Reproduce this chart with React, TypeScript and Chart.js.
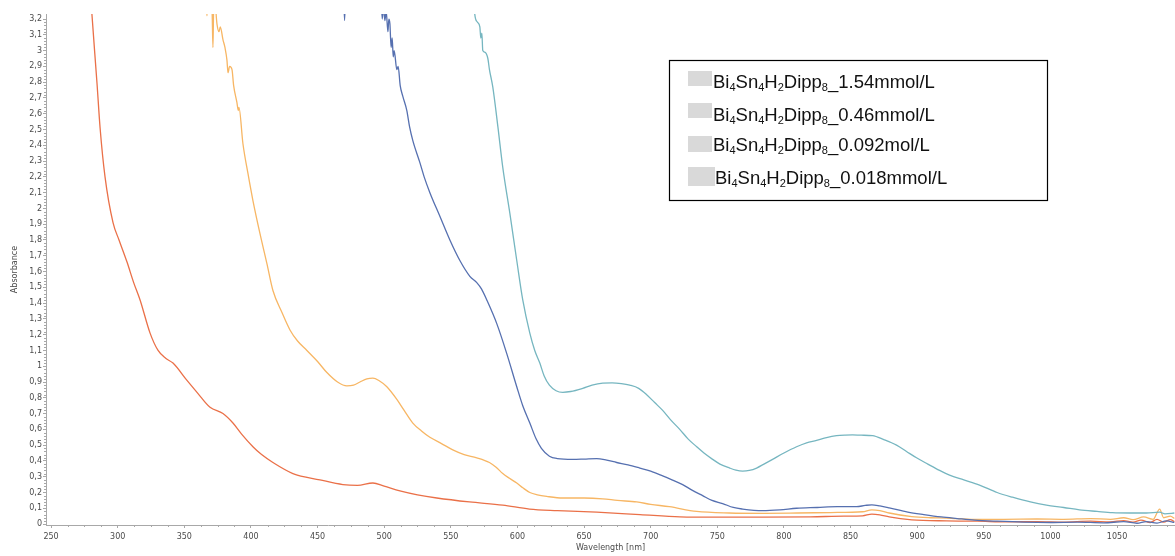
import React, { useEffect, useRef } from 'react';
import { Chart, registerables } from 'chart.js';

Chart.register(...registerables);

// UV-Vis absorbance spectra of Bi4Sn4H2Dipp8 at four concentrations

// 1.54 mmol/L
const wl154 = [566, 568, 570, 571.8, 572.5, 573.3, 574, 575.5, 577.8, 579, 581.5, 585.3, 589, 594.3, 599.5, 604, 609.3, 613, 616.8, 620, 624, 629, 634, 640, 649, 656, 664, 671, 678, 684.3, 691, 697, 703, 709, 715, 721.8, 728, 734.5, 740, 746.5, 752, 759.3, 764, 769, 774, 779.5, 785, 791.5, 800, 809.5, 817, 824.5, 832, 839.5, 846, 851.5, 858, 866.5, 875, 884.5, 892, 899.5, 908, 916.8, 924.3, 935, 946.8, 960, 971.5, 985, 997, 1010, 1021.8, 1035, 1046.5, 1060, 1072, 1082, 1086, 1093];
const abs154 = [3.5, 3.23, 3.18, 3.15, 3.08, 3.11, 3.0, 2.99, 2.95, 2.88, 2.77, 2.52, 2.26, 1.97, 1.67, 1.42, 1.21, 1.1, 1.02, 0.94, 0.88, 0.845, 0.835, 0.84, 0.86, 0.88, 0.893, 0.895, 0.89, 0.88, 0.86, 0.82, 0.77, 0.72, 0.66, 0.6, 0.54, 0.49, 0.45, 0.41, 0.38, 0.355, 0.342, 0.336, 0.34, 0.355, 0.38, 0.41, 0.45, 0.49, 0.515, 0.53, 0.548, 0.56, 0.564, 0.565, 0.563, 0.56, 0.535, 0.5, 0.46, 0.42, 0.38, 0.34, 0.31, 0.28, 0.247, 0.2, 0.17, 0.14, 0.12, 0.105, 0.09, 0.08, 0.072, 0.07, 0.07, 0.075, 0.065, 0.07];

// 0.46 mmol/L
const wl046 = [469, 470.3, 471.5, 480, 490, 497, 498.5, 499.5, 500.5, 501.5, 502.8, 503.5, 504.3, 505.2, 506, 506.8, 507.5, 509.5, 510.5, 512, 514, 517, 519, 521.5, 526.8, 530, 534.3, 541.8, 549.3, 556.8, 564.3, 569.5, 573, 577, 584.5, 592, 599.5, 604, 609.3, 614, 618, 624, 630, 641.5, 650, 659.5, 667, 674.5, 683, 691.8, 700, 709, 716, 724, 731, 739, 746, 754, 762, 769, 784, 797, 809.5, 825, 840, 854.5, 861, 866, 872, 879, 893, 905, 918, 930, 943, 960, 980, 1000, 1020, 1040, 1055, 1065, 1072, 1080, 1087, 1093];
const abs046 = [3.5, 3.19, 3.5, 3.6, 3.6, 3.5, 3.2, 3.28, 3.19, 3.25, 3.12, 3.2, 3.17, 3.02, 3.08, 2.96, 3.0, 2.88, 2.9, 2.78, 2.71, 2.62, 2.52, 2.43, 2.29, 2.2, 2.1, 1.95, 1.8, 1.67, 1.57, 1.53, 1.49, 1.42, 1.27, 1.08, 0.87, 0.75, 0.64, 0.54, 0.48, 0.43, 0.415, 0.41, 0.412, 0.415, 0.405, 0.39, 0.375, 0.355, 0.335, 0.305, 0.28, 0.25, 0.215, 0.18, 0.15, 0.13, 0.105, 0.095, 0.085, 0.09, 0.1, 0.105, 0.11, 0.11, 0.118, 0.122, 0.115, 0.103, 0.076, 0.06, 0.045, 0.035, 0.025, 0.018, 0.012, 0.01, 0.012, 0.008, 0.015, 0.005, 0.016, 0.006, 0.02, 0.01];

// 0.092 mmol/L
const wl0092 = [366.5, 367, 367.5, 370, 371, 371.5, 372, 373, 374.5, 376, 377, 379, 380.5, 382, 382.8, 384, 385.8, 387, 389.5, 390.5, 391, 394, 397.8, 401.5, 406.8, 412, 416.5, 423.3, 429.3, 435, 442, 450, 457, 465, 472, 477, 481.8, 487, 491.5, 496, 502, 509.5, 515, 521.5, 528, 534.3, 543, 551.5, 560, 569.5, 579, 584, 589, 594, 599.5, 604, 609.3, 615, 622, 634, 650, 664, 675, 689.5, 700, 714, 734.5, 759, 785, 810, 835, 859, 866, 872, 879, 896, 910, 922, 943, 965, 990, 1010, 1030, 1045, 1055, 1062, 1070, 1077, 1082, 1085, 1090, 1093];
const abs0092 = [3.5, 3.22, 3.5, 3.6, 3.2, 3.02, 3.25, 3.3, 3.17, 3.12, 3.15, 3.07, 3.02, 2.94, 2.86, 2.9, 2.88, 2.78, 2.67, 2.62, 2.64, 2.41, 2.22, 2.05, 1.84, 1.65, 1.48, 1.34, 1.23, 1.16, 1.1, 1.03, 0.96, 0.9, 0.875, 0.88, 0.9, 0.92, 0.925, 0.91, 0.87, 0.79, 0.72, 0.64, 0.59, 0.55, 0.51, 0.47, 0.44, 0.42, 0.39, 0.36, 0.32, 0.29, 0.26, 0.23, 0.2, 0.185, 0.175, 0.165, 0.165, 0.16, 0.15, 0.14, 0.125, 0.11, 0.08, 0.07, 0.068, 0.07, 0.073, 0.078, 0.09, 0.085, 0.07, 0.047, 0.04, 0.038, 0.03, 0.03, 0.032, 0.03, 0.035, 0.03, 0.04, 0.028, 0.045, 0.03, 0.095, 0.04, 0.05, 0.035];

// 0.018 mmol/L
const wl0018 = [279, 280.5, 284.5, 286.8, 290.5, 296.5, 301, 307, 312, 316.8, 324.3, 330.3, 336, 341.5, 352, 360, 369.3, 379, 386.5, 393, 401.5, 408, 416.5, 431.5, 451.8, 469, 480, 491.5, 500, 511.8, 525, 539.5, 564, 589, 609, 630, 659.5, 692, 722, 750, 784, 820, 845, 859, 866, 872, 879, 896, 922, 945, 968, 990, 1010, 1030, 1045, 1055, 1062, 1068, 1075, 1080, 1085, 1090, 1093];
const abs0018 = [3.45, 3.25, 2.79, 2.51, 2.2, 1.91, 1.8, 1.66, 1.53, 1.42, 1.21, 1.1, 1.05, 1.02, 0.91, 0.83, 0.74, 0.7, 0.64, 0.57, 0.49, 0.44, 0.39, 0.32, 0.28, 0.25, 0.245, 0.26, 0.24, 0.21, 0.185, 0.165, 0.14, 0.12, 0.095, 0.085, 0.075, 0.06, 0.046, 0.044, 0.044, 0.046, 0.05, 0.052, 0.063, 0.058, 0.045, 0.027, 0.02, 0.018, 0.014, 0.015, 0.012, 0.018, 0.014, 0.022, 0.012, 0.025, 0.01, 0.03, 0.012, 0.028, 0.015];

const seriesNames = ['1.54 mmol/L', '0.46 mmol/L', '0.092 mmol/L', '0.018 mmol/L'];
const seriesColors = ['#76b6c0', '#5670b0', '#f7b664', '#ea7048'];

// legend text: formula with subscripts, then a concentration suffix
const formulaParts: [string, boolean][] = [
  ['Bi', false], ['4', true], ['Sn', false], ['4', true],
  ['H', false], ['2', true], ['Dipp', false], ['8', true],
];
const legendSuffixes = ['_1.54mmol/L', '_0.46mmol/L', '_0.092mol/L', '_0.018mmol/L'];

const axisColor = '#a8a8a8';
const labelColor = '#4a4a4a';
const tickFont = { family: 'DejaVu Sans', size: 8 };

const xMin = 246.2;
const xMax = 1093.5;
const yMin = -0.006;
const yMax = 3.232;

function fmtAbs(v: number): string {
  const r = Math.round(v * 10) / 10;
  return String(r).replace('.', ',');
}

const minorTicksPlugin = {
  id: 'minorTicks',
  afterDraw(chart: any) {
    const { ctx, scales, chartArea } = chart;
    const xs = scales.x;
    const ys = scales.y;
    ctx.save();
    ctx.strokeStyle = axisColor;
    ctx.lineWidth = 1;
    ctx.beginPath();
    for (let i = 0; i <= 160; i++) {
      if (i % 5 === 0) continue;
      const py = Math.round(ys.getPixelForValue(i * 0.02)) + 0.5;
      ctx.moveTo(chartArea.left - 2, py);
      ctx.lineTo(chartArea.left, py);
    }
    for (let i = 0; 250 + i * 12.5 <= xMax; i++) {
      if (i % 4 === 0) continue;
      const px = Math.round(xs.getPixelForValue(250 + i * 12.5)) + 0.5;
      ctx.moveTo(px, chartArea.bottom);
      ctx.lineTo(px, chartArea.bottom + 2);
    }
    ctx.stroke();
    ctx.restore();
  },
};

const legendPlugin = {
  id: 'boxLegend',
  afterDraw(chart: any) {
    const ctx = chart.ctx;
    ctx.save();
    const bx = 669.5, by = 60.5, bw = 378, bh = 140;
    ctx.fillStyle = '#ffffff';
    ctx.fillRect(bx, by, bw, bh);
    ctx.strokeStyle = '#000000';
    ctx.lineWidth = 1.2;
    ctx.strokeRect(bx, by, bw, bh);

    const swatches = [
      [688, 71, 24, 15],
      [688, 103, 24, 15],
      [688, 136, 24, 16],
      [688, 167, 27, 19],
    ];
    const textX = [713, 713, 713, 715];
    const baselines = [87.5, 120.5, 150.5, 184];
    ctx.textBaseline = 'alphabetic';
    ctx.textAlign = 'left';
    legendSuffixes.forEach((suffix, i) => {
      const [sx, sy, sw, sh] = swatches[i];
      ctx.fillStyle = '#d9d9d9';
      ctx.fillRect(sx, sy, sw, sh);
      ctx.fillStyle = '#111111';
      let x = textX[i];
      const base = baselines[i];
      const parts: [string, boolean][] = [...formulaParts, [suffix, false]];
      parts.forEach(([t, sub]) => {
        ctx.font = sub ? '11px "Liberation Sans", Arial, sans-serif' : '18.5px "Liberation Sans", Arial, sans-serif';
        ctx.fillText(t, x, sub ? base + 3 : base);
        x += ctx.measureText(t).width;
      });
    });
    ctx.restore();
  },
};

export default function App() {
  const canvasRef = useRef<HTMLCanvasElement | null>(null);

  useEffect(() => {
    if (!canvasRef.current) return;
    const xsList = [wl154, wl046, wl0092, wl0018];
    const ysList = [abs154, abs046, abs0092, abs0018];
    const datasets = seriesNames.map((name, i) => ({
      label: name,
      data: xsList[i].map((x, k) => ({ x, y: ysList[i][k] })),
      borderColor: seriesColors[i],
      backgroundColor: seriesColors[i],
      borderWidth: 1.3,
      pointRadius: 0,
      cubicInterpolationMode: 'monotone' as const,
      fill: false,
    }));

    const chart = new Chart(canvasRef.current, {
      type: 'line',
      data: { datasets },
      options: {
        animation: false,
        responsive: true,
        maintainAspectRatio: false,
        layout: { padding: { top: 14, right: 0, left: 0, bottom: 0 } },
        plugins: {
          legend: { display: false },
          tooltip: { enabled: false },
        },
        scales: {
          x: {
            type: 'linear',
            min: xMin,
            max: xMax,
            afterFit: (s: any) => { s.height = 31; },
            border: { display: true, color: axisColor, width: 1 },
            grid: { drawOnChartArea: false, drawTicks: true, tickLength: 3, color: axisColor },
            ticks: {
              stepSize: 50,
              includeBounds: false,
              autoSkip: false,
              maxRotation: 0,
              padding: 4,
              color: labelColor,
              font: tickFont,
              callback: (v: any) => String(v),
            },
            title: {
              display: true,
              text: 'Wavelength [nm]',
              color: labelColor,
              font: tickFont,
              padding: { top: 0, bottom: 3 },
            },
          },
          y: {
            type: 'linear',
            min: yMin,
            max: yMax,
            afterFit: (s: any) => { s.width = 46; },
            border: { display: true, color: axisColor, width: 1 },
            grid: { drawOnChartArea: false, drawTicks: true, tickLength: 3, color: axisColor },
            ticks: {
              stepSize: 0.1,
              includeBounds: false,
              autoSkip: false,
              padding: 1,
              color: labelColor,
              font: tickFont,
              callback: (v: any) => fmtAbs(Number(v)),
            },
            title: {
              display: true,
              text: 'Absorbance',
              color: labelColor,
              font: tickFont,
              padding: { top: 10, bottom: 0 },
            },
          },
        },
      },
      plugins: [minorTicksPlugin, legendPlugin],
    });
    return () => chart.destroy();
  }, []);

  return (
    <div style={{ position: 'fixed', left: 0, top: 0, width: 1175, height: 556, background: '#ffffff' }}>
      <canvas ref={canvasRef} />
    </div>
  );
}
